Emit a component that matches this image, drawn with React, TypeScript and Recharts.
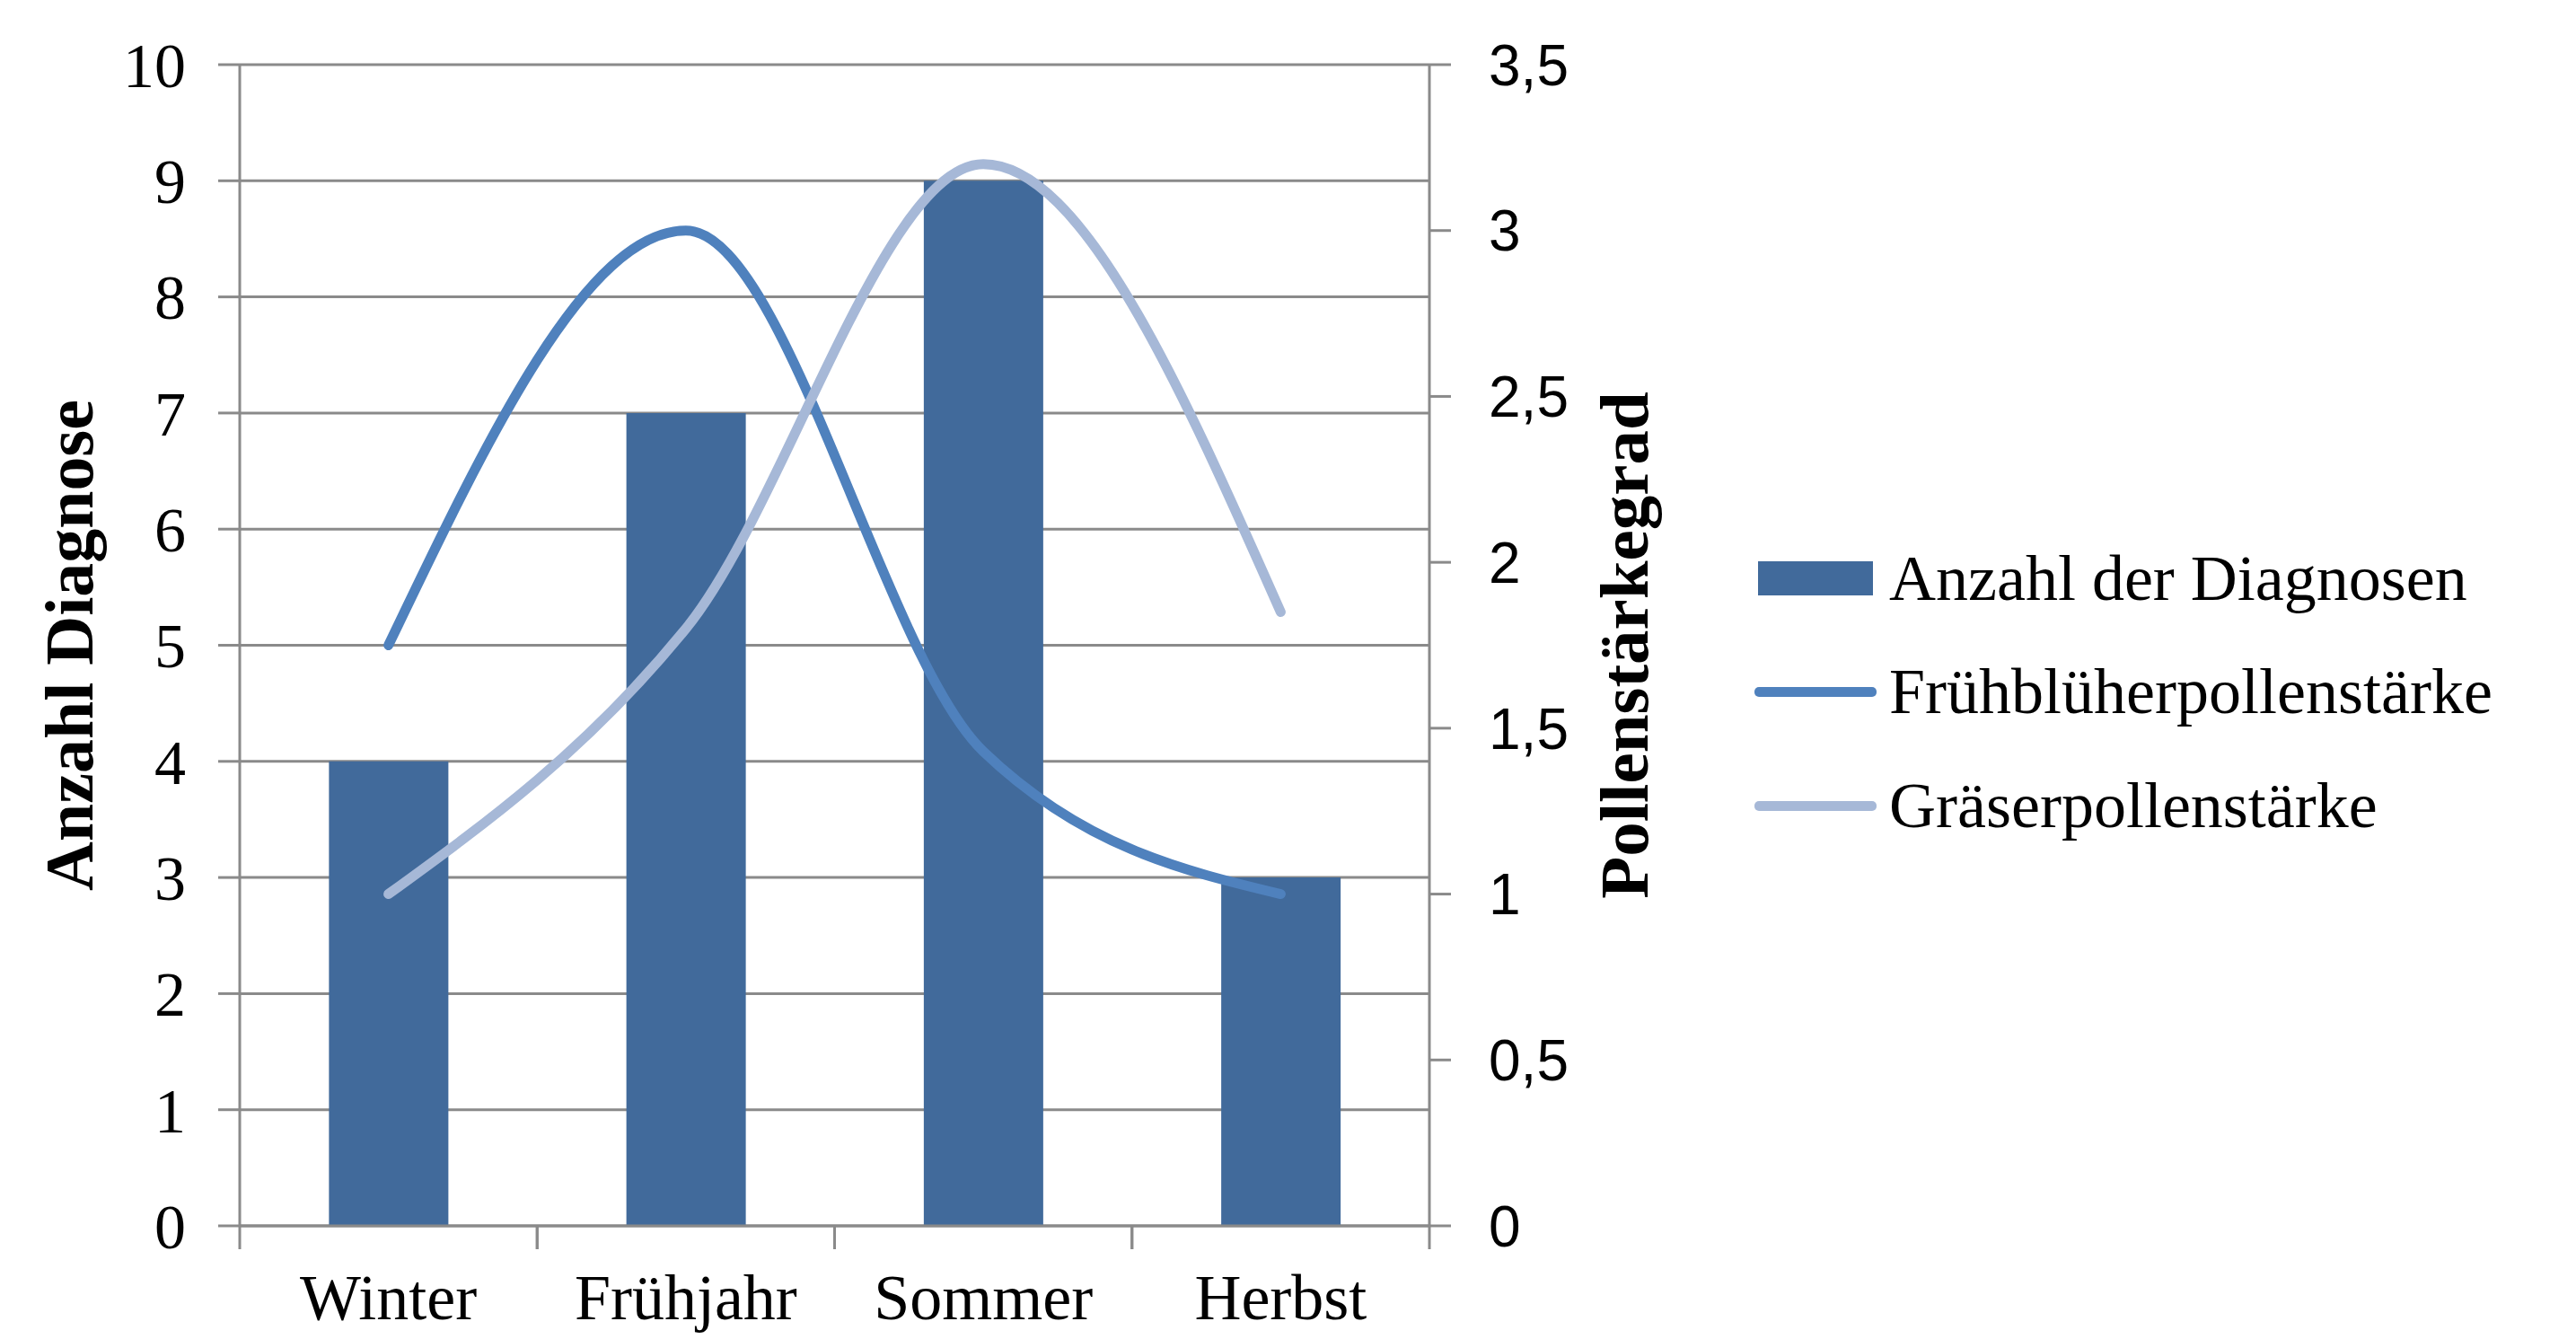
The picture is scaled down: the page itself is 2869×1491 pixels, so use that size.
import { Bar, CartesianGrid, ComposedChart, Legend, Line, XAxis, YAxis } from 'recharts'

const seasons = ['Winter', 'Frühjahr', 'Sommer', 'Herbst']
const diagnosen = [4, 7, 9, 3]
const fruehblueher = [1.75, 3.0, 1.43, 1.0]
const graeser = [1.0, 1.8, 3.2, 1.85]
const leftTicks = [0, 1, 2, 3, 4, 5, 6, 7, 8, 9, 10]
const rightTicks = [0, 0.5, 1, 1.5, 2, 2.5, 3, 3.5]

const data = seasons.map((name, i) => ({
  name,
  diagnosen: diagnosen[i],
  frueh: fruehblueher[i],
  graeser: graeser[i],
}))

const BAR_COLOR = '#416A9B'
const FRUEH_COLOR = '#4F81BD'
const GRAESER_COLOR = '#A6B8D7'
const GRID = '#8A8A8A'
const SERIF = "'Liberation Serif', 'Times New Roman', serif"
const SANS = "'Liberation Sans Narrow', 'Liberation Sans', Arial, sans-serif"

function SeasonTick(props: any) {
  const { x, y, payload } = props
  const half = payload?.offset ?? 0
  return (
    <g>
      <line x1={x - half} x2={x - half} y1={y} y2={y + 26} stroke={GRID} strokeWidth={3} />
      <line x1={x + half} x2={x + half} y1={y} y2={y + 26} stroke={GRID} strokeWidth={3} />
      <text x={x} y={y + 104} textAnchor="middle" fontFamily={SERIF} fontSize={72} fill="#000">
        {payload.value}
      </text>
    </g>
  )
}

function LegendBox({ payload }: any) {
  return (
    <div style={{ display: 'flex', flexDirection: 'column' }}>
      {(payload ?? []).map((entry: any) => (
        <div key={entry.value} style={{ display: 'flex', alignItems: 'center', height: 126.5 }}>
          {entry.type === 'rect' ? (
            <div style={{ width: 128, height: 38, background: entry.color, marginLeft: 8 }} />
          ) : (
            <div style={{ width: 136, height: 11, borderRadius: 5, background: entry.color, marginLeft: 4, marginRight: -4 }} />
          )}
          <span style={{ fontFamily: SERIF, fontSize: 72, color: '#000', marginLeft: 18, whiteSpace: 'nowrap' }}>{entry.value}</span>
        </div>
      ))}
    </div>
  )
}

export default function App() {
  return (
    <div style={{ position: 'absolute', left: 0, top: 0, background: '#fff' }}>
      <ComposedChart
        width={2869}
        height={1491}
        data={data}
        margin={{ top: 72, right: 977, bottom: 0, left: 0 }}
        barCategoryGap="30%"
      >
        <CartesianGrid yAxisId="left" vertical={false} stroke={GRID} strokeWidth={3} />
        <XAxis
          dataKey="name"
          height={126}
          axisLine={{ stroke: GRID, strokeWidth: 3 }}
          tickLine={false}
          tickSize={0}
          tickMargin={0}
          interval={0}
          tick={<SeasonTick />}
        />
        <YAxis
          yAxisId="left"
          width={267}
          domain={[0, 10]}
          ticks={leftTicks}
          interval={0}
          axisLine={{ stroke: GRID, strokeWidth: 3 }}
          tickLine={{ stroke: GRID, strokeWidth: 3 }}
          tickSize={24}
          tickMargin={36}
          tick={{ fontFamily: SERIF, fontSize: 70, fill: '#000' }}
          label={{
            value: 'Anzahl Diagnose',
            angle: -90,
            position: 'insideLeft',
            offset: 76,
            fontFamily: SERIF,
            fontSize: 76,
            fontWeight: 'bold',
            fill: '#000',
            style: { textAnchor: 'middle' },
          }}
        />
        <YAxis
          yAxisId="right"
          orientation="right"
          width={300}
          domain={[0, 3.5]}
          ticks={rightTicks}
          interval={0}
          axisLine={{ stroke: GRID, strokeWidth: 3 }}
          tickLine={{ stroke: GRID, strokeWidth: 3 }}
          tickSize={24}
          tickMargin={42}
          tickFormatter={(v: number) => String(v).replace('.', ',')}
          tick={{ fontFamily: SANS, fontSize: 64, fill: '#000' }}
          label={{
            value: 'Pollenstärkegrad',
            angle: -90,
            position: 'insideRight',
            offset: 84,
            fontFamily: SERIF,
            fontSize: 77,
            fontWeight: 'bold',
            fill: '#000',
            style: { textAnchor: 'middle' },
          }}
        />
        <Legend
          layout="horizontal"
          verticalAlign="middle"
          align="center"
          content={<LegendBox />}
          wrapperStyle={{ left: 1950, top: 581, width: 900, height: 'auto' }}
        />
        <Bar yAxisId="left" dataKey="diagnosen" name="Anzahl der Diagnosen" fill={BAR_COLOR} legendType="rect" isAnimationActive={false} />
        <Line
          yAxisId="right"
          type="monotone"
          dataKey="frueh"
          name="Frühblüherpollenstärke"
          stroke={FRUEH_COLOR}
          strokeWidth={11}
          strokeLinecap="round"
          dot={false}
          activeDot={false}
          legendType="line"
          isAnimationActive={false}
        />
        <Line
          yAxisId="right"
          type="monotone"
          dataKey="graeser"
          name="Gräserpollenstärke"
          stroke={GRAESER_COLOR}
          strokeWidth={11}
          strokeLinecap="round"
          dot={false}
          activeDot={false}
          legendType="line"
          isAnimationActive={false}
        />
      </ComposedChart>
    </div>
  )
}
